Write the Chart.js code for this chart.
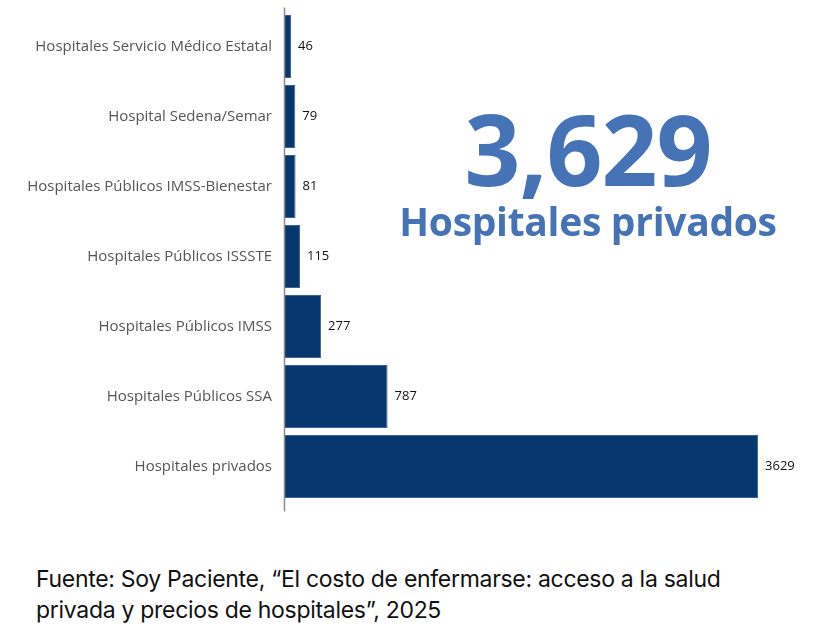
<!DOCTYPE html>
<html>
<head>
<meta charset="utf-8">
<script src="https://cdn.jsdelivr.net/npm/chart.js@4"></script>
<style>
  html, body { margin: 0; padding: 0; background: #fff; width: 827px; height: 643px; overflow: hidden; }
  #wrap { position: absolute; left: 0; top: 0; width: 827px; height: 530px; }
  #big { position: absolute; left: 388px; width: 400px; top: 93px; text-align: center;
         font-family: "Open Sans", "Noto Sans", sans-serif; font-weight: 700; color: #4672b6;
         font-size: 98px; line-height: 110px; letter-spacing: -1px; }
  #sub { position: absolute; left: 388px; width: 400px; top: 196px; text-align: center;
         font-family: "Open Sans", "Noto Sans", sans-serif; font-weight: 700; color: #4672b6;
         font-size: 39px; line-height: 50px; letter-spacing: -0.3px; }
  #src { position: absolute; left: 36px; top: 564px; width: 790px;
         font-family: "Inter", sans-serif; font-size: 23px; line-height: 31px; color: #111;
         letter-spacing: -0.3px; }
</style>
</head>
<body>
<div id="wrap"><canvas id="c" width="827" height="530"></canvas></div>
<div id="big">3,629</div>
<div id="sub">Hospitales privados</div>
<div id="src">Fuente: Soy Paciente, “El costo de enfermarse: acceso a la salud<br>privada y precios de hospitales”, 2025</div>
<script>
const categories = [
  "Hospitales Servicio Médico Estatal",
  "Hospital Sedena/Semar",
  "Hospitales Públicos IMSS-Bienestar",
  "Hospitales Públicos ISSSTE",
  "Hospitales Públicos IMSS",
  "Hospitales Públicos SSA",
  "Hospitales privados"
];
const hospitalCounts = [46, 79, 81, 115, 277, 787, 3629];

const valueLabels = {
  id: 'valueLabels',
  afterDatasetsDraw(chart) {
    const ctx = chart.ctx;
    const meta = chart.getDatasetMeta(0);
    ctx.save();
    ctx.font = '13px "Open Sans", "Noto Sans", sans-serif';
    ctx.fillStyle = '#111';
    ctx.textAlign = 'left';
    ctx.textBaseline = 'middle';
    meta.data.forEach((bar, i) => {
      ctx.fillText(String(hospitalCounts[i]), bar.x + 7, bar.y);
    });
    ctx.restore();
  }
};
const axisLine = {
  id: 'axisLine',
  afterDatasetsDraw(chart) {
    const ctx = chart.ctx;
    const a = chart.chartArea;
    ctx.save();
    ctx.strokeStyle = '#8a8a8a';
    ctx.lineWidth = 1.5;
    ctx.beginPath();
    ctx.moveTo(a.left - 0.5, a.top - 4);
    ctx.lineTo(a.left - 0.5, a.bottom + 10);
    ctx.stroke();
    ctx.restore();
  }
};

new Chart(document.getElementById('c'), {
  type: 'bar',
  data: {
    labels: categories,
    datasets: [{
      data: hospitalCounts,
      backgroundColor: '#08366f',
      borderColor: '#3d6299',
      borderWidth: 1,
      barPercentage: 0.9,
      categoryPercentage: 1.0
    }]
  },
  options: {
    indexAxis: 'y',
    responsive: false,
    animation: false,
    layout: { padding: { top: 11.5, bottom: 28.5, left: 0, right: 20.6 } },
    plugins: { legend: { display: false }, tooltip: { enabled: false } },
    scales: {
      x: { display: false, min: 0, max: 4000 },
      y: {
        grid: { display: false },
        border: { display: false },
        ticks: {
          color: '#555',
          padding: 5,
          font: { family: '"Open Sans", "Noto Sans", sans-serif', size: 15 }
        },
        afterFit(scale) { scale.width = 285; scale.paddingTop = 0; scale.paddingBottom = 0; }
      }
    }
  },
  plugins: [valueLabels, axisLine]
});
</script>
</body>
</html>
